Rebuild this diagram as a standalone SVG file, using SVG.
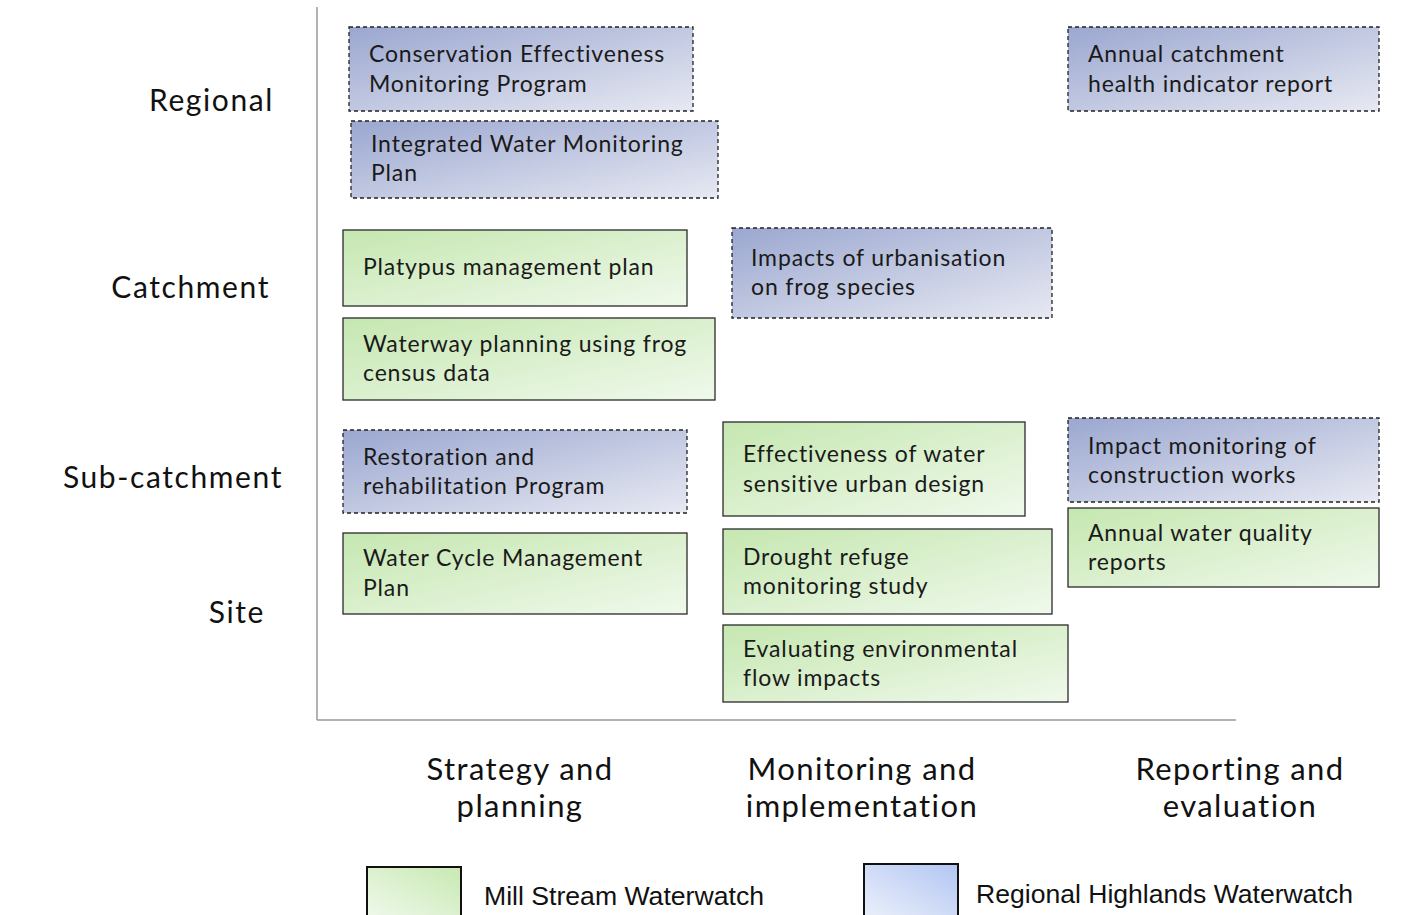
<svg xmlns="http://www.w3.org/2000/svg" width="1412" height="915" viewBox="0 0 1412 915">
  <defs>
    <linearGradient id="gBlue" x1="0" y1="0" x2="1" y2="1">
      <stop offset="0" stop-color="#9ba7d0"/>
      <stop offset="1" stop-color="#e7e9f2"/>
    </linearGradient>
    <linearGradient id="gGreen" x1="0" y1="0" x2="1" y2="1">
      <stop offset="0" stop-color="#c5e7b0"/>
      <stop offset="1" stop-color="#f0f9ec"/>
    </linearGradient>
    <linearGradient id="lgGreen" x1="0" y1="1" x2="1" y2="0">
      <stop offset="0" stop-color="#f0f9ec"/>
      <stop offset="1" stop-color="#c8e9b2"/>
    </linearGradient>
    <linearGradient id="lgBlue" x1="0" y1="1" x2="1" y2="0">
      <stop offset="0" stop-color="#ecf0fa"/>
      <stop offset="1" stop-color="#b2c6f3"/>
    </linearGradient>
    <style>
      .blue { fill: url(#gBlue); stroke: #222; stroke-width: 1.3; stroke-dasharray: 4 3; }
      .green { fill: url(#gGreen); stroke: #2a2a2a; stroke-width: 1.3; }
      .t { font-family: Lato, "Noto Sans", sans-serif; font-size: 23px; letter-spacing: 0.85px; fill: #1a1a1a; }
      .row { font-family: Lato, "Noto Sans", sans-serif; font-size: 30px; letter-spacing: 1.6px; fill: #111; text-anchor: end; }
      .col { font-family: Lato, "Noto Sans", sans-serif; font-size: 31px; letter-spacing: 1.4px; fill: #111; text-anchor: middle; }
      .leg { font-family: "Liberation Sans", Arial, sans-serif; font-size: 25px; fill: #111; }
      .axis { stroke: #9a9a9a; stroke-width: 1.5; fill: none; }
    </style>
  </defs>
  <rect width="1412" height="915" fill="#ffffff"/>

  <!-- axes -->
  <g id="axes">
    <line class="axis" x1="317" y1="7" x2="317" y2="720"/>
    <line class="axis" x1="317" y1="720" x2="1236" y2="720"/>
  </g>

  <!-- scale labels -->
  <g id="row-labels">
    <text class="row" x="274" y="111">Regional</text>
    <text class="row" x="270" y="298">Catchment</text>
    <text class="row" x="283" y="488">Sub-catchment</text>
    <text class="row" x="265" y="623">Site</text>
  </g>

  <!-- stage labels -->
  <g id="col-labels">
    <text class="col" x="520" y="780">Strategy and</text>
    <text class="col" x="520" y="817">planning</text>
    <text class="col" x="862" y="780">Monitoring and</text>
    <text class="col" x="862" y="817">implementation</text>
    <text class="col" x="1240" y="780">Reporting and</text>
    <text class="col" x="1240" y="817">evaluation</text>
  </g>

  <g id="n-conservation">
    <rect class="blue" x="349" y="27" width="344" height="84"/>
    <text class="t" x="369" y="62">Conservation Effectiveness</text>
    <text class="t" x="369" y="92">Monitoring Program</text>
  </g>
  <g id="n-integrated">
    <rect class="blue" x="351" y="121" width="367" height="77"/>
    <text class="t" x="371" y="152">Integrated Water Monitoring</text>
    <text class="t" x="371" y="181">Plan</text>
  </g>
  <g id="n-annual-health">
    <rect class="blue" x="1068" y="27" width="311" height="84"/>
    <text class="t" x="1088" y="62">Annual catchment</text>
    <text class="t" x="1088" y="92">health indicator report</text>
  </g>
  <g id="n-platypus">
    <rect class="green" x="343" y="230" width="344" height="76"/>
    <text class="t" x="363" y="275">Platypus management plan</text>
  </g>
  <g id="n-waterway">
    <rect class="green" x="343" y="318" width="372" height="82"/>
    <text class="t" x="363" y="352">Waterway planning using frog</text>
    <text class="t" x="363" y="381">census data</text>
  </g>
  <g id="n-urbanisation">
    <rect class="blue" x="732" y="228" width="320" height="90"/>
    <text class="t" x="751" y="266">Impacts of urbanisation</text>
    <text class="t" x="751" y="295">on frog species</text>
  </g>
  <g id="n-restoration">
    <rect class="blue" x="343" y="430" width="344" height="83"/>
    <text class="t" x="363" y="465">Restoration and</text>
    <text class="t" x="363" y="494">rehabilitation Program</text>
  </g>
  <g id="n-water-cycle">
    <rect class="green" x="343" y="533" width="344" height="81"/>
    <text class="t" x="363" y="566">Water Cycle Management</text>
    <text class="t" x="363" y="596">Plan</text>
  </g>
  <g id="n-wsud">
    <rect class="green" x="723" y="422" width="302" height="94"/>
    <text class="t" x="743" y="462">Effectiveness of water</text>
    <text class="t" x="743" y="492">sensitive urban design</text>
  </g>
  <g id="n-drought">
    <rect class="green" x="723" y="529" width="329" height="85"/>
    <text class="t" x="743" y="565">Drought refuge</text>
    <text class="t" x="743" y="594">monitoring study</text>
  </g>
  <g id="n-eflow">
    <rect class="green" x="723" y="625" width="345" height="77"/>
    <text class="t" x="743" y="657">Evaluating environmental</text>
    <text class="t" x="743" y="686">flow impacts</text>
  </g>
  <g id="n-construction">
    <rect class="blue" x="1068" y="418" width="311" height="84"/>
    <text class="t" x="1088" y="454">Impact monitoring of</text>
    <text class="t" x="1088" y="483">construction works</text>
  </g>
  <g id="n-water-quality">
    <rect class="green" x="1068" y="508" width="311" height="79"/>
    <text class="t" x="1088" y="541">Annual water quality</text>
    <text class="t" x="1088" y="570">reports</text>
  </g>

  <!-- no connectors in this chart -->
  <g id="connectors"/>

  <!-- legend -->
  <g id="legend">
    <rect x="367" y="867" width="94" height="52" fill="url(#lgGreen)" stroke="#111" stroke-width="2"/>
    <text class="leg" x="484" y="905" textLength="280" lengthAdjust="spacingAndGlyphs">Mill Stream Waterwatch</text>
    <rect x="864" y="864" width="94" height="55" fill="url(#lgBlue)" stroke="#111" stroke-width="2"/>
    <text class="leg" x="976" y="903" textLength="377" lengthAdjust="spacingAndGlyphs">Regional Highlands Waterwatch</text>
  </g>
</svg>
